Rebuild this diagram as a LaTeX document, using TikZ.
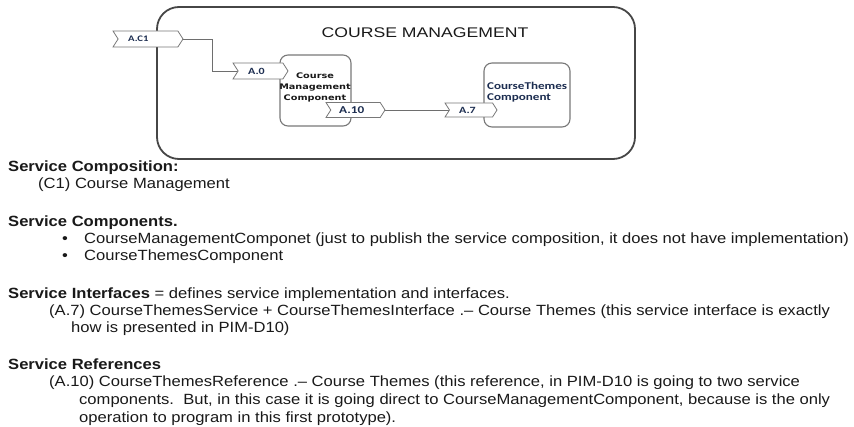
\documentclass[tikz,border=0pt]{standalone}
\usepackage{fontspec}
\setmainfont[FakeStretch=1.12]{Liberation Sans}
\newfontfamily\titlefont[FakeStretch=1.26]{Liberation Sans}
\newfontfamily\tagfont[FakeStretch=1.26]{Carlito}
\newfontfamily\compfont[FakeStretch=1.26]{DejaVu Sans}
\usetikzlibrary{shapes.symbols}

\definecolor{framecol}{RGB}{70,70,70}
\definecolor{boxcol}{RGB}{120,120,120}
\definecolor{wirecol}{RGB}{110,110,110}
\definecolor{navy}{RGB}{28,45,80}
\definecolor{inkcol}{RGB}{25,25,25}

\tikzset{
  outerbox/.style={draw=framecol, line width=1.8pt, rounded corners=22pt, inner sep=0pt},
  compbox/.style={draw=boxcol, line width=1.1pt, fill=white, rounded corners=8pt, inner sep=0pt},
  tagbox/.style={shape=signal, signal from=west, signal to=east, signal pointer angle=115,
                 draw=boxcol, line width=0.8pt, fill=white, inner sep=0pt, minimum height=16pt},
  taglabel/.style={anchor=west, inner sep=0pt, text=navy,
                   font=\tagfont\bfseries\fontsize{9.5}{11}\selectfont},
  wire/.style={draw=wirecol, line width=0.9pt},
  bodyline/.style={anchor=base west, inner sep=0pt, text=inkcol,
                   font=\fontsize{14.8}{17}\selectfont},
}

\begin{document}
\begin{tikzpicture}[x=1pt, y=-1pt]
\useasboundingbox (0,0) rectangle (854,427);

% composition frame and its title
\node[outerbox, minimum width=478pt, minimum height=152pt] (frame) at (396,83) {};
\node[inner sep=0pt, text=inkcol, font=\titlefont\fontsize{14}{16}\selectfont] (title) at (425,33) {COURSE MANAGEMENT};

% wires between the interface tags
\coordinate (bend) at (212,39);
\coordinate (tC1c) at (148,39);
\coordinate (tA0c) at (260.5,71);
\draw[wire] (tC1c) -- (bend) |- (tA0c);
\coordinate (tA10c) at (355.5,110);
\coordinate (tA7c) at (471,110);
\draw[wire] (tA10c) -- (tA7c);

% components
\node[compbox, minimum width=71pt, minimum height=71pt] (cmc) at (315.5,90.5) {};
\node[compbox, minimum width=86pt, minimum height=64pt] (ctc) at (527,95) {};

% interface tags
\node[tagbox, minimum width=70pt] (tC1) at (tC1c) {};
\node[tagbox, minimum width=55pt] (tA0) at (tA0c) {};
\node[tagbox, minimum width=59pt, minimum height=15pt] (tA10) at (tA10c) {};
\node[tagbox, minimum width=52pt, minimum height=14pt] (tA7) at (tA7c) {};

\node[taglabel, font=\tagfont\bfseries\fontsize{8.5}{10}\selectfont] (lC1) at (128,39) {A.C1};
\node[taglabel] (lA0) at (248,71) {A.0};
\node[taglabel, font=\tagfont\bfseries\fontsize{10.5}{12}\selectfont] (lA10) at (339,110) {A.10};
\node[taglabel] (lA7) at (459,110.5) {A.7};

% component names
\node[inner sep=0pt, align=center, text=inkcol,
      font=\compfont\bfseries\fontsize{7.7}{11}\selectfont] (cmcname) at (315,87)
      {Course\\Management\\Component};
\node[anchor=west, inner sep=0pt, align=left, text=navy,
      font=\tagfont\bfseries\fontsize{10.4}{11}\selectfont] (ctcname) at (487,92.5)
      {CourseThemes\\Component};

% description
\node[bodyline] (t1) at (8,172) {\bfseries Service Composition:};
\node[bodyline] (t2) at (38,189) {(C1) Course Management};
\node[bodyline] (t3) at (8,227) {\bfseries Service Components.};
\node[bodyline] (bul1) at (62,244) {•};
\node[bodyline] (t4) at (84,244) {CourseManagementComponet (just to publish the service composition, it does not have implementation)};
\node[bodyline] (bul2) at (62,261) {•};
\node[bodyline] (t5) at (84,261) {CourseThemesComponent};
\node[bodyline] (t6) at (8,299) {{\bfseries Service Interfaces} = defines service implementation and interfaces.};
\node[bodyline] (t7) at (49,316) {(A.7) CourseThemesService + CourseThemesInterface .– Course Themes (this service interface is exactly};
\node[bodyline] (t8) at (71,333) {how is presented in PIM-D10)};
\node[bodyline] (t9) at (8,370) {\bfseries Service References};
\node[bodyline] (t10) at (49,387) {(A.10) CourseThemesReference .– Course Themes (this reference, in PIM-D10 is going to two service};
\node[bodyline] (t11) at (79,404.5) {components.\ \ But, in this case it is going direct to CourseManagementComponent, because is the only};
\node[bodyline] (t12) at (79,422) {operation to program in this first prototype).};
\end{tikzpicture}
\end{document}
